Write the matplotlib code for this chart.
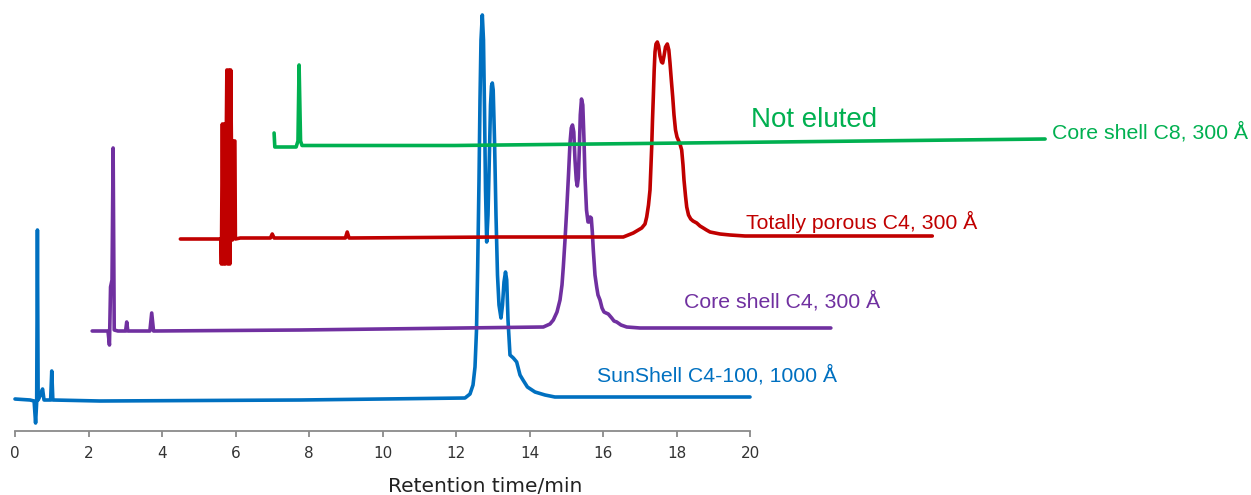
import matplotlib.pyplot as plt

# retention times (min, each trace's own clock) and signal above its baseline (a.u.)
SUN_T = [0.00, 0.41, 0.52, 0.56, 0.59, 0.61, 0.63, 0.68, 0.75, 0.79, 0.97, 1.00, 1.03,
         2.31, 7.76, 12.245, 12.381, 12.463, 12.517, 12.558, 12.590, 12.626, 12.653,
         12.680, 12.716, 12.748, 12.776, 12.803, 12.835, 12.871, 12.912, 12.939, 12.966,
         12.988, 13.012, 13.048, 13.088, 13.129, 13.170, 13.224, 13.265, 13.306, 13.347,
         13.380, 13.415, 13.469, 13.560, 13.651, 13.742, 13.823, 13.943, 14.150, 14.422,
         14.69, 20.00]
SUN_S = [0, -1, -2, -24, -3, 169, -1, 3, 10, -1, -1, 28, -1,
         -2, -1, 1, 5, 14, 32, 69, 132, 219, 299,
         359, 384, 359, 289, 209, 157, 184, 249, 294, 313,
         316, 309, 259, 184, 124, 94, 81, 94, 117, 127,
         119, 79, 44, 41, 37, 24, 19, 12, 7, 4,
         2, 2]

CS4_T = [0.00, 0.43, 0.47, 0.50, 0.54, 0.57, 0.60, 0.70, 0.91, 0.94, 0.97, 1.57, 1.62,
         1.67, 5.65, 12.276, 12.458, 12.548, 12.648, 12.730, 12.784, 12.820, 12.866,
         12.912, 12.961, 13.002, 13.037, 13.070, 13.105, 13.138, 13.173, 13.201, 13.228,
         13.255, 13.282, 13.315, 13.350, 13.383, 13.410, 13.451, 13.492, 13.519, 13.551,
         13.581, 13.609, 13.636, 13.682, 13.728, 13.764, 13.818, 13.873, 13.927, 13.982,
         14.044, 14.137, 14.199, 14.273, 14.390, 14.545, 14.907, 20.10]
CS4_S = [-1, -1, -15, 43, 50, 182, 0, -1, -1, 8, -1, -1, 17,
         -1, 0, 3, 6, 10, 18, 30, 45, 63, 90,
         120, 155, 187, 202, 205, 198, 170, 150, 144, 152,
         180, 215, 231, 225, 190, 153, 120, 108, 108, 113,
         112, 98, 80, 55, 43, 35, 30, 22, 18, 17,
         16, 12, 9, 8, 5, 3, 2, 2]

TP4_T = [0.00, 1.102, 1.116, 1.143, 1.170, 1.197, 1.224, 1.252, 1.265, 1.293, 1.320,
         1.347, 1.369, 1.388, 1.415, 1.442, 1.483, 1.497, 1.63, 2.45, 2.50, 2.55,
         4.49, 4.54, 4.59, 8.71, 10.20, 11.70, 12.052, 12.324, 12.553, 12.643, 12.689,
         12.738, 12.779, 12.806, 12.825, 12.847, 12.869, 12.893, 12.915, 12.942, 12.978,
         13.013, 13.051, 13.092, 13.124, 13.160, 13.201, 13.250, 13.291, 13.323, 13.359,
         13.397, 13.432, 13.473, 13.514, 13.549, 13.595, 13.641, 13.677, 13.704, 13.745,
         13.778, 13.827, 13.887, 13.949, 14.050, 14.139, 14.229, 14.316, 14.412, 14.548,
         14.684, 14.956, 15.364, 20.46]
TP4_S = [-1, -1, -26, 114, -26, 114, -26, 114, 168, -26, 168,
         -26, 168, 97, -2, 97, 97, -1, 0, 0, 4, 0,
         0, 6, 0, 1, 1, 1, 1, 5, 10, 14, 21,
         33, 48, 73, 91, 118, 141, 168, 186, 194, 196,
         192, 182, 176, 175, 182, 191, 194, 188, 175, 158,
         141, 123, 108, 101, 98, 94, 88, 73, 58, 42,
         31, 23, 19, 17, 15, 12, 10, 8, 6, 5,
         4, 3, 2, 2]

CS8_T = [0.05, 0.07, 0.65, 0.70, 0.73, 0.77, 0.81, 4.97, 10.01, 21.03]
CS8_S = [14, 0, 0, 6, 82, 6, 1.5, 1.5, 3.5, 8]

# display offsets used to stack the chromatograms
X_SHIFT = [0.0, 2.1, 4.5, 7.0]
Y_SHIFT = [32, 101, 193, 284]

NAMES = ['SunShell C4-100, 1000 Å', 'Core shell C4, 300 Å',
         'Totally porous C4, 300 Å', 'Core shell C8, 300 Å']
COLORS = ['#0070C0', '#7030A0', '#C00000', '#00B050']
LABEL_POS = [(15.84, 56), (18.20, 130), (19.89, 209), (28.22, 299)]

TICKS = list(range(0, 21, 2))

LABEL_FONT = ['Liberation Sans', 'DejaVu Sans']


def main():
    fig = plt.figure(figsize=(12.51, 4.95), dpi=100)
    ax = fig.add_axes([0, 64 / 495, 1, 431 / 495])
    ax.set_xlim(-15 / 36.75, 1236 / 36.75)
    ax.set_ylim(0, 431)

    traces = [(SUN_T, SUN_S), (CS4_T, CS4_S), (TP4_T, TP4_S), (CS8_T, CS8_S)]
    for i, (t, s) in enumerate(traces):
        x = [v + X_SHIFT[i] for v in t]
        y = [v + Y_SHIFT[i] for v in s]
        ax.plot(x, y, color=COLORS[i], lw=2.6, solid_joinstyle='round',
                solid_capstyle='round', clip_on=False)
        ax.text(LABEL_POS[i][0], LABEL_POS[i][1], NAMES[i], color=COLORS[i],
                fontsize=15.3, family=LABEL_FONT, ha='left', va='center')

    ax.text(20.03, 311, 'Not eluted', color=COLORS[3], fontsize=20,
            family=LABEL_FONT, ha='left', va='center')

    for side in ['left', 'top', 'right']:
        ax.spines[side].set_visible(False)
    ax.spines['bottom'].set_bounds(0, 20)
    ax.spines['bottom'].set_color('#8a8a8a')
    ax.spines['bottom'].set_linewidth(1.3)
    ax.set_yticks([])
    ax.set_xticks(TICKS)
    ax.set_xticklabels([str(v) for v in TICKS])
    ax.tick_params(axis='x', direction='out', length=4.5, width=1.3,
                   color='#8a8a8a', labelsize=11, labelcolor='#333333', pad=6)

    fig.text(485 / 1251, 1 - 487 / 495, 'Retention time/min', ha='center',
             va='center', fontsize=14.5, color='#222222')

    fig.savefig('out.png', dpi=100)


if __name__ == '__main__':
    main()
